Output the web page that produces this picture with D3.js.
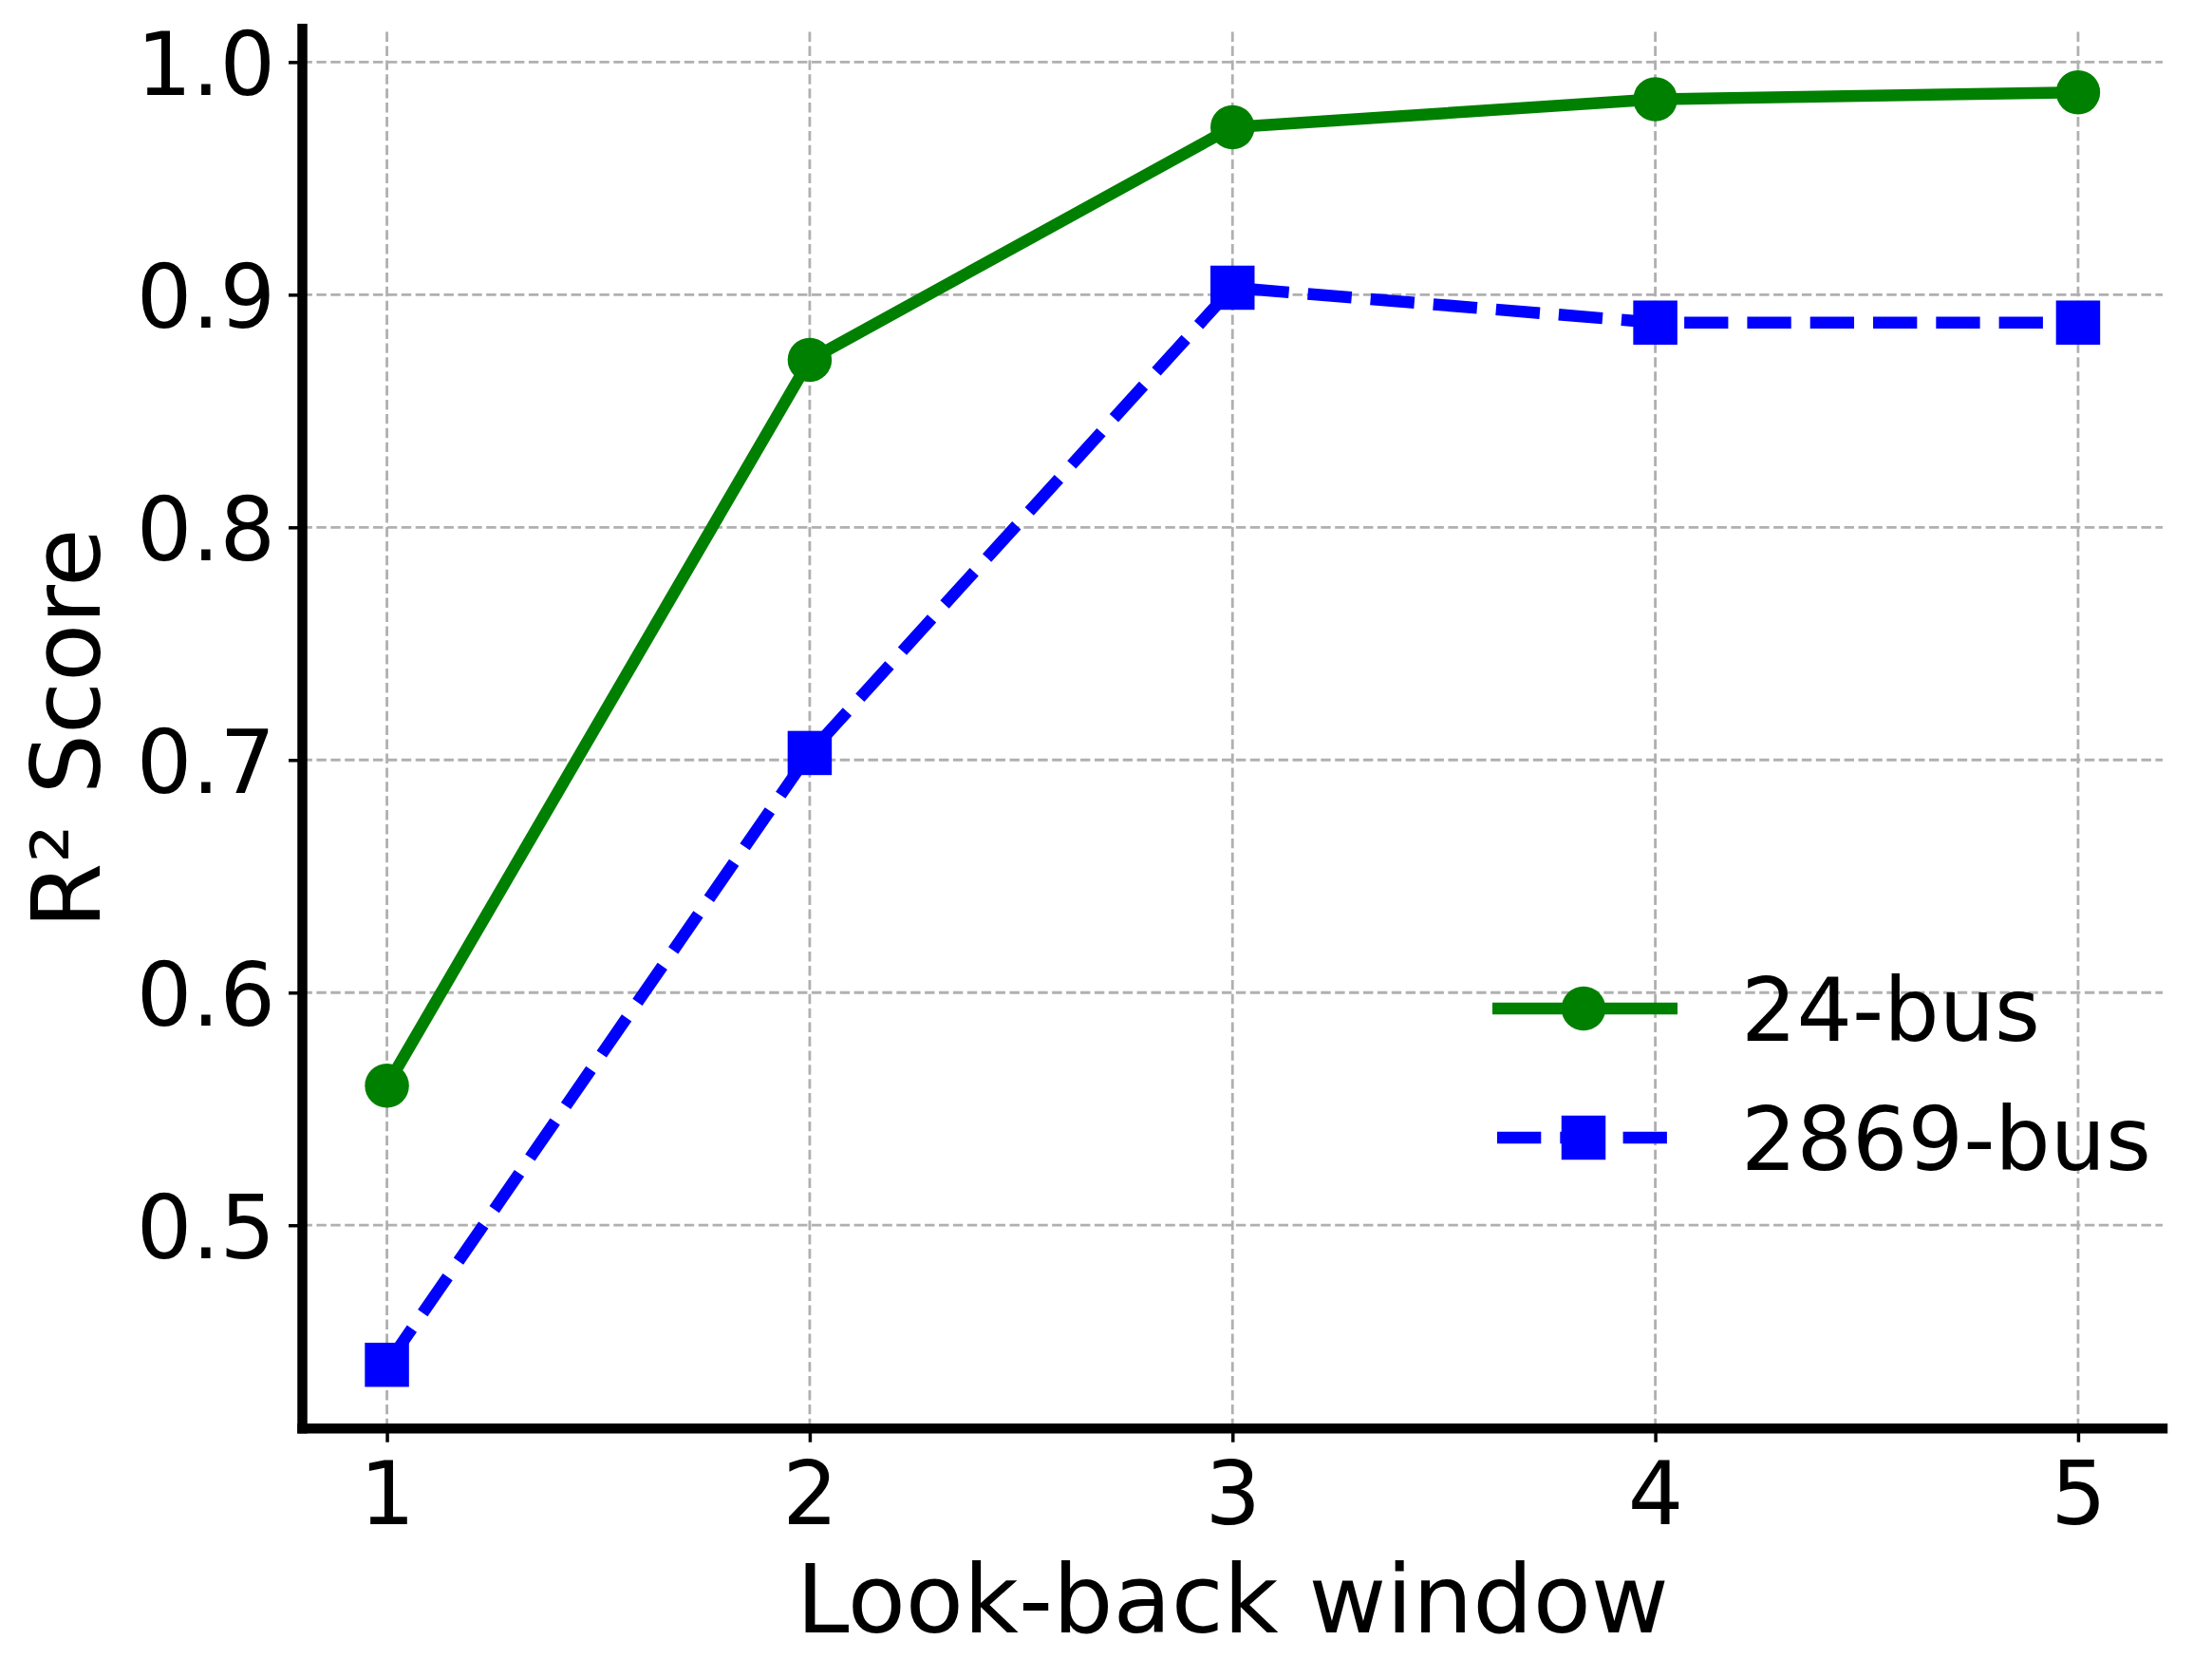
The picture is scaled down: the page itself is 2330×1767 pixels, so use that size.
<!DOCTYPE html>
<html>
<head>
<meta charset="utf-8">
<script src="https://cdn.jsdelivr.net/npm/d3@7"></script>
<style>
  html, body { margin: 0; padding: 0; background: #fff; }
  svg { display: block; }
  text { font-family: "DejaVu Sans", sans-serif; fill: #000; }
</style>
</head>
<body>
<script>
// ---- data ----
const windows = [1, 2, 3, 4, 5];
const bus24 = [0.560, 0.872, 0.972, 0.984, 0.987];
const bus2869 = [0.440, 0.703, 0.903, 0.888, 0.888];
const seriesNames = ["24-bus", "2869-bus"];
const xTickValues = [1, 2, 3, 4, 5];
const yTickValues = [0.5, 0.6, 0.7, 0.8, 0.9, 1.0];
const xLabel = "Look-back window";
const yLabel = "R\u00B2 Score";

// ---- layout ----
const W = 2330, H = 1767;
const plot = { left: 318.5, right: 2278, top: 30.2, bottom: 1504.2 };

const svg = d3.select("body").append("svg").attr("width", W).attr("height", H);

// domains with 5% margins (matplotlib style)
const xr = d3.extent(windows), xm = (xr[1] - xr[0]) * 0.05;
const allY = bus24.concat(bus2869);
const yr = d3.extent(allY), ym = (yr[1] - yr[0]) * 0.05;

const x = d3.scaleLinear().domain([xr[0] - xm, xr[1] + xm]).range([plot.left, plot.right]);
const y = d3.scaleLinear().domain([yr[0] - ym, yr[1] + ym]).range([plot.bottom, plot.top]);

// ---- grid ----
const gridG = svg.append("g");
const gridStyle = sel => sel.attr("stroke", "#b0b0b0").attr("stroke-width", 2.8)
  .attr("stroke-dasharray", "10.4,4.5").attr("fill", "none");
gridG.selectAll("line.vg").data(xTickValues).join("line").attr("class", "vg")
  .attr("x1", d => x(d)).attr("x2", d => x(d))
  .attr("y1", plot.bottom).attr("y2", plot.top).call(gridStyle);
gridG.selectAll("line.hg").data(yTickValues).join("line").attr("class", "hg")
  .attr("x1", plot.left).attr("x2", plot.right)
  .attr("y1", d => y(d)).attr("y2", d => y(d)).call(gridStyle);

// ---- axes ----
const tickLen = 14.5;
const xAxis = d3.axisBottom(x).tickValues(xTickValues).tickSize(tickLen).tickFormat(d3.format("d"));
const yAxis = d3.axisLeft(y).tickValues(yTickValues).tickSize(tickLen).tickFormat(d3.format(".1f"));

const gx = svg.append("g").attr("transform", `translate(0,${plot.bottom})`).call(xAxis);
const gy = svg.append("g").attr("transform", `translate(${plot.left},0)`).call(yAxis);
[gx, gy].forEach(g => {
  g.select(".domain").remove();
  g.selectAll(".tick line").attr("stroke", "#000").attr("stroke-width", 3.5);
  g.selectAll(".tick text").attr("fill", "#000")
    .style("font-family", "'DejaVu Sans', sans-serif").style("font-size", "92px");
});
gx.selectAll(".tick text").attr("y", 1605 - plot.bottom).attr("dy", null);
gy.selectAll(".tick text").attr("x", -(plot.left - 290)).attr("dy", "0.37em");

// spines
svg.append("line").attr("x1", plot.left).attr("x2", plot.left)
  .attr("y1", plot.top).attr("y2", plot.bottom)
  .attr("stroke", "#000").attr("stroke-width", 10.5).attr("stroke-linecap", "square");
svg.append("line").attr("x1", plot.left).attr("x2", plot.right)
  .attr("y1", plot.bottom).attr("y2", plot.bottom)
  .attr("stroke", "#000").attr("stroke-width", 10.5).attr("stroke-linecap", "square");

// ---- series ----
const line = d3.line().x(d => x(d[0])).y(d => y(d[1]));
const d24 = windows.map((w, i) => [w, bus24[i]]);
const d2869 = windows.map((w, i) => [w, bus2869[i]]);

const lw = 12.5, ms = 46.5;

svg.append("path").datum(d24).attr("d", line)
  .attr("fill", "none").attr("stroke", "green").attr("stroke-width", lw)
  .attr("stroke-linejoin", "round").attr("stroke-linecap", "butt");
svg.append("g").selectAll("circle").data(d24).join("circle")
  .attr("cx", d => x(d[0])).attr("cy", d => y(d[1])).attr("r", ms / 2)
  .attr("fill", "green");

svg.append("path").datum(d2869).attr("d", line)
  .attr("fill", "none").attr("stroke", "blue").attr("stroke-width", lw)
  .attr("stroke-dasharray", "46.3,20").attr("stroke-linejoin", "round").attr("stroke-linecap", "butt");
svg.append("g").selectAll("rect").data(d2869).join("rect")
  .attr("x", d => x(d[0]) - ms / 2).attr("y", d => y(d[1]) - ms / 2)
  .attr("width", ms).attr("height", ms).attr("fill", "blue");

// ---- legend ----
const leg = svg.append("g");
const legRows = [
  { name: seriesNames[0], color: "green", dash: null, marker: "circle", ly: 1062, ty: 1096 },
  { name: seriesNames[1], color: "blue", dash: "46.3,20", marker: "square", ly: 1198, ty: 1232 }
];
legRows.forEach(r => {
  leg.append("line").attr("x1", r.dash ? 1577 : 1572).attr("x2", 1767)
    .attr("y1", r.ly).attr("y2", r.ly)
    .attr("stroke", r.color).attr("stroke-width", lw)
    .attr("stroke-dasharray", r.dash);
  if (r.marker === "circle") {
    leg.append("circle").attr("cx", 1668).attr("cy", r.ly).attr("r", ms / 2).attr("fill", r.color);
  } else {
    leg.append("rect").attr("x", 1668 - ms / 2).attr("y", r.ly - ms / 2)
      .attr("width", ms).attr("height", ms).attr("fill", r.color);
  }
  leg.append("text").attr("x", 1834).attr("y", r.ty)
    .style("font-size", "92px").text(r.name);
});

// ---- axis labels ----
svg.append("text").attr("x", (plot.left + plot.right) / 2).attr("y", 1719)
  .attr("text-anchor", "middle").style("font-size", "100px").text(xLabel);
svg.append("text").attr("transform", `translate(105,${(plot.top + plot.bottom) / 2}) rotate(-90)`)
  .attr("text-anchor", "middle").style("font-size", "100px").text(yLabel);
</script>
</body>
</html>
